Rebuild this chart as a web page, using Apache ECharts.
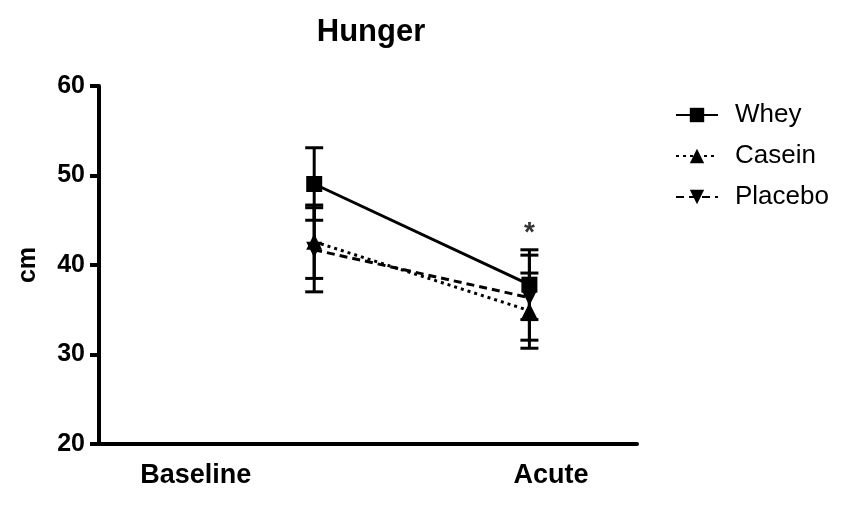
<!DOCTYPE html>
<html><head><meta charset="utf-8">
<script src="https://cdn.jsdelivr.net/npm/echarts@6/dist/echarts.min.js"></script>
<style>html,body{margin:0;background:#fff}#c{width:849px;height:508px}</style>
</head><body><div id="c"></div>
<script>
// ---- data ----
const categories = ['Baseline', 'Acute'];
const labelX = [18, 84];          // where the category labels sit on the 0–100 x scale
const pointX = [40, 80];          // where the time points are plotted on the 0–100 x scale
const whey = [49.05, 37.8];
const wheyErr = [4.05, 3.9];
const casein = [42.6, 34.9];
const caseinErr = [4.1, 4.2];
const placebo = [41.7, 36.35];
const placeboErr = [4.7, 4.75];
const yTicks = [20, 30, 40, 50, 60];
const starY = 43.5;               // significance asterisk above Acute

const FONT = '"Liberation Sans", Arial, Helvetica, sans-serif';

function pts(vals) { return pointX.map((x, i) => [x, vals[i]]); }
function errData(vals, errs) { return pointX.map((x, i) => [x, vals[i] - errs[i], vals[i] + errs[i]]); }
function errRender(params, api) {
  const x = api.value(0), lo = api.value(1), hi = api.value(2);
  const pHi = api.coord([x, hi]), pLo = api.coord([x, lo]);
  const w = 9;
  const style = { stroke: '#000', lineWidth: 3 };
  return { type: 'group', children: [
    { type: 'line', shape: { x1: pHi[0], y1: pHi[1], x2: pLo[0], y2: pLo[1] }, style },
    { type: 'line', shape: { x1: pHi[0] - w, y1: pHi[1], x2: pHi[0] + w, y2: pHi[1] }, style },
    { type: 'line', shape: { x1: pLo[0] - w, y1: pLo[1], x2: pLo[0] + w, y2: pLo[1] }, style }
  ]};
}
function errSeries(vals, errs) {
  return { type: 'custom', renderItem: errRender, data: errData(vals, errs),
    encode: { x: 0, y: [1, 2] }, z: 1, silent: true, animation: false };
}

const chart = echarts.init(document.getElementById('c'), null, { renderer: 'canvas' });
chart.setOption({
  animation: false,
  backgroundColor: '#fff',
  title: {
    text: 'Hunger', left: 366, top: 12, textAlign: 'center',
    textStyle: { fontFamily: FONT, fontSize: 31, fontWeight: 'bold', color: '#000' }
  },
  legend: {
    orient: 'vertical', left: 670, top: 97, itemWidth: 42, itemHeight: 18, itemGap: 15,
    data: ['Whey', 'Casein', 'Placebo'],
    textStyle: { fontFamily: FONT, fontSize: 26, color: '#000', lineHeight: 26, padding: [0, 0, 0, 12] }
  },
  grid: { left: 99, right: 212, top: 86, bottom: 64, containLabel: false },
  xAxis: {
    type: 'value', min: 0, max: 100,
    axisLine: { show: true, lineStyle: { color: '#000', width: 4 } },
    axisTick: { show: false },
    splitLine: { show: false },
    axisLabel: {
      customValues: labelX,
      formatter: v => categories[labelX.indexOf(v)] || '',
      fontFamily: FONT, fontSize: 27, fontWeight: 'bold', color: '#000', margin: 18
    }
  },
  yAxis: {
    type: 'value', min: yTicks[0], max: yTicks[yTicks.length - 1], interval: 10,
    name: 'cm', nameLocation: 'middle', nameRotate: 90, nameGap: 58,
    nameTextStyle: { fontFamily: FONT, fontSize: 25, fontWeight: 'bold', color: '#000' },
    axisLine: { show: true, lineStyle: { color: '#000', width: 4 } },
    axisTick: { show: true, inside: false, length: 9, lineStyle: { color: '#000', width: 4 } },
    splitLine: { show: false },
    axisLabel: { fontFamily: FONT, fontSize: 25, fontWeight: 'bold', color: '#000', margin: 14 }
  },
  series: [
    errSeries(whey, wheyErr),
    errSeries(casein, caseinErr),
    errSeries(placebo, placeboErr),
    { name: 'Whey', type: 'line', data: pts(whey), symbol: 'rect', symbolSize: 16, z: 3,
      lineStyle: { color: '#000', width: 3, type: 'solid' }, itemStyle: { color: '#000' } },
    { name: 'Casein', type: 'line', data: pts(casein), symbol: 'triangle', symbolSize: 16, z: 3,
      lineStyle: { color: '#000', width: 3, type: [3, 4] }, itemStyle: { color: '#000' } },
    { name: 'Placebo', type: 'line', data: pts(placebo), symbol: 'triangle', symbolRotate: 180, symbolSize: 16, z: 3,
      lineStyle: { color: '#000', width: 3, type: [8, 5] }, itemStyle: { color: '#000' } },
    { type: 'scatter', data: [[pointX[1], starY]], symbolSize: 0, silent: true, z: 4,
      label: { show: true, position: 'inside', formatter: '*', fontFamily: FONT, fontSize: 28, fontWeight: 'bold', color: '#000' } }
  ]
});
</script>
</body></html>
